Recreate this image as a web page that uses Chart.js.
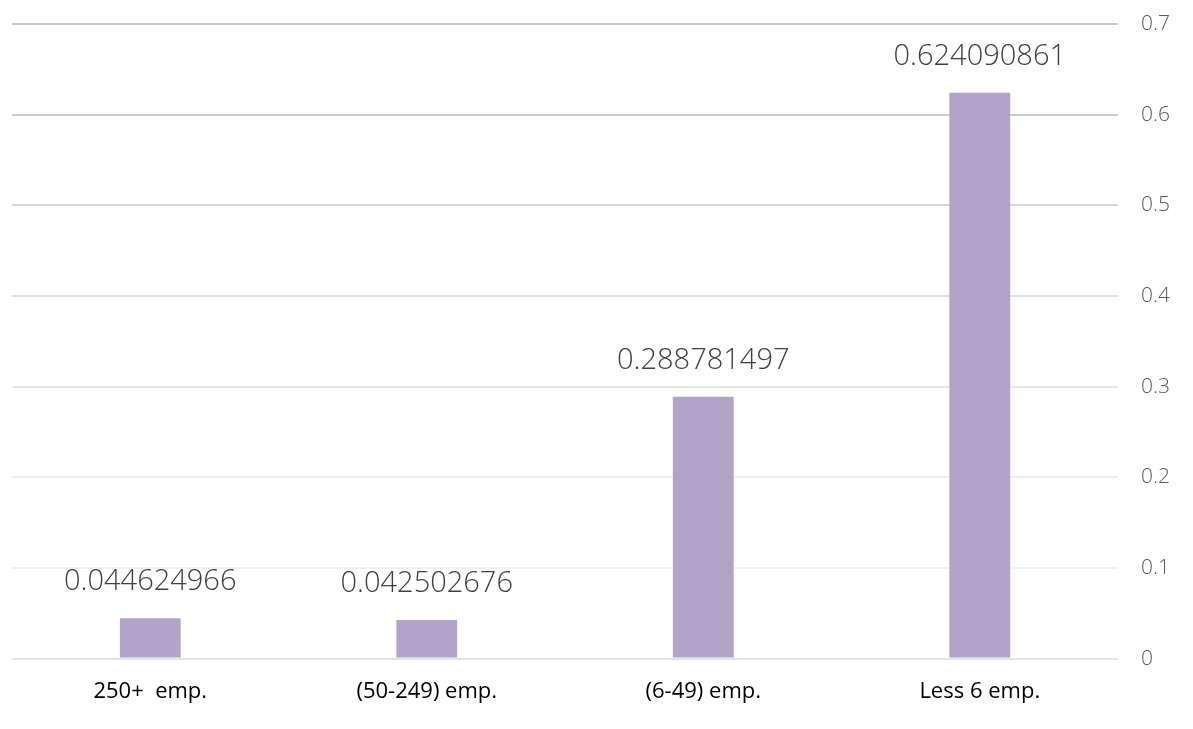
<!DOCTYPE html>
<html>
<head>
<meta charset="utf-8">
<script src="https://cdn.jsdelivr.net/npm/chart.js@4/dist/chart.umd.min.js"></script>
<style>
  html, body { margin: 0; padding: 0; background: #fff; }
  #wrap { width: 1193px; height: 729px; }
</style>
</head>
<body>
<div id="wrap"><canvas id="myChart" width="1193" height="729"></canvas></div>
<script>
var categories = ['250+  emp.', '(50-249) emp.', '(6-49) emp.', 'Less 6 emp.'];
var shares = [0.044624966, 0.042502676, 0.288781497, 0.624090861];
var yTicks = [0, 0.1, 0.2, 0.3, 0.4, 0.5, 0.6, 0.7];

// grid lines fade from darker at the top to lighter at the bottom
var gridColors = ['#e2e2e2', '#f0f0f0', '#ececec', '#e6e6e6', '#e0e0e0', '#d6d6d6', '#cccccc', '#c8c8c8'];

var valueLabels = {
    id: 'valueLabels',
    afterDatasetsDraw: function (chart) {
        var ctx = chart.ctx;
        var meta = chart.getDatasetMeta(0);
        ctx.save();
        ctx.font = '300 29px "Open Sans", "Noto Sans", sans-serif';
        ctx.fillStyle = '#404040';
        ctx.textAlign = 'center';
        ctx.textBaseline = 'middle';
        meta.data.forEach(function (bar, i) {
            ctx.fillText(String(shares[i]), bar.x, bar.y - 36);
        });
        ctx.restore();
    }
};

var ctx = document.getElementById('myChart').getContext('2d');
var myChart = new Chart(ctx, {
    type: 'bar',
    data: {
        labels: categories,
        datasets: [{
            data: shares,
            backgroundColor: '#b3a2c7',
            borderWidth: 0,
            categoryPercentage: 1,
            barPercentage: 0.22
        }]
    },
    options: {
        responsive: false,
        animation: false,
        layout: { padding: { left: 12, top: 24, right: 0, bottom: 12 } },
        plugins: {
            legend: { display: false },
            tooltip: { enabled: false }
        },
        scales: {
            x: {
                grid: { display: false },
                border: { display: false },
                ticks: {
                    color: '#000000',
                    font: { family: '"Open Sans", "Noto Sans", sans-serif', size: 22 },
                    padding: 12
                }
            },
            y: {
                position: 'right',
                min: 0,
                max: 0.7,
                afterBuildTicks: function (axis) {
                    axis.ticks = yTicks.map(function (v) { return { value: v }; });
                },
                afterFit: function (axis) {
                    axis.paddingTop = 0;
                },
                grid: {
                    color: function (c) { return gridColors[c.index] || '#e0e0e0'; },
                    lineWidth: 2,
                    drawTicks: false
                },
                border: { display: false },
                ticks: {
                    color: '#595959',
                    font: { family: '"Open Sans", "Noto Sans", sans-serif', size: 21, weight: '300' },
                    padding: 23,
                    callback: function (v) { return String(v); }
                }
            }
        }
    },
    plugins: [valueLabels]
});
</script>
</body>
</html>
